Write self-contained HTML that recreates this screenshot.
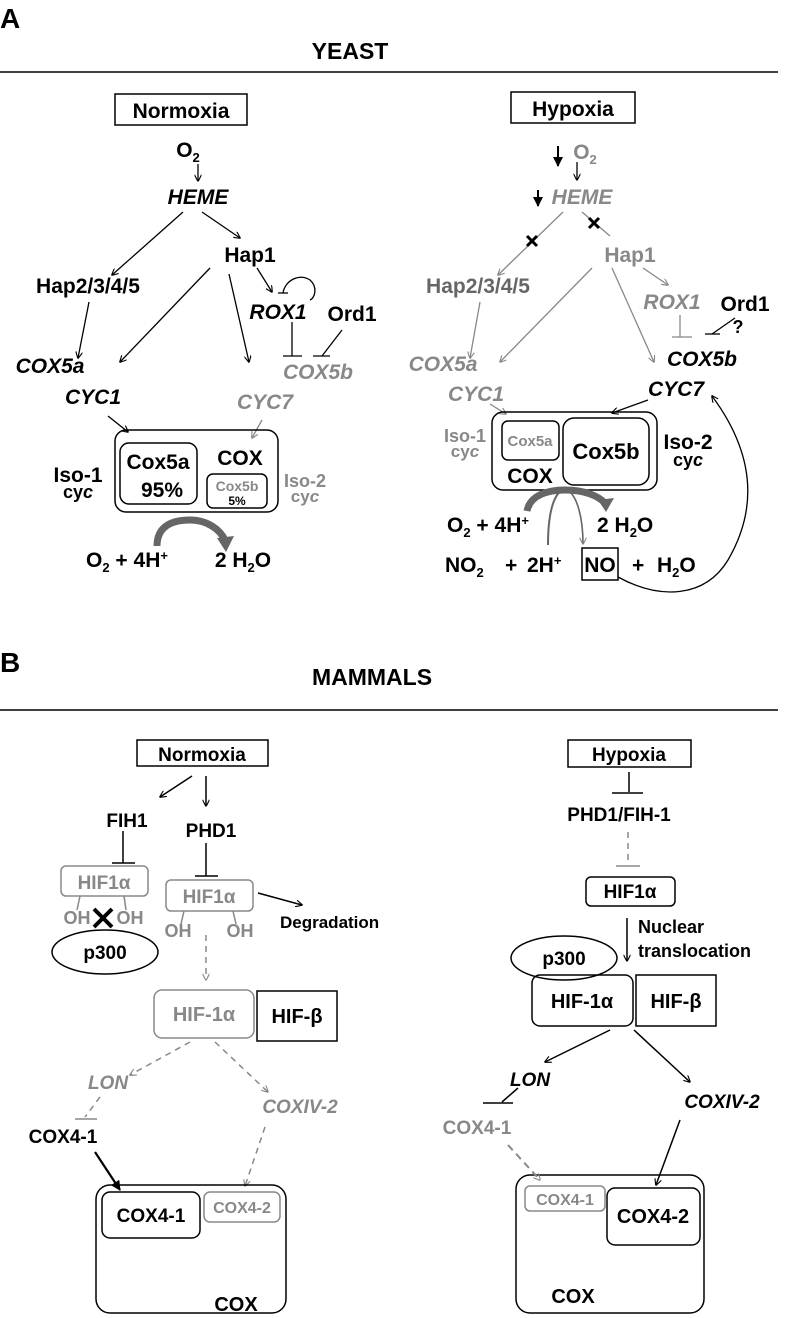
<!DOCTYPE html>
<html><head><meta charset="utf-8"><style>
html,body{margin:0;padding:0;background:#fff}
svg{display:block}
text{font-family:"Liberation Sans",Arial,sans-serif;font-weight:bold}
.g{fill:#888}
.i{font-style:italic}
</style></head><body>
<svg width="792" height="1318" viewBox="0 0 792 1318" xmlns="http://www.w3.org/2000/svg">
<defs>
<marker id="a" viewBox="0 0 10 10" refX="9" refY="5" markerWidth="7" markerHeight="7" orient="auto" markerUnits="userSpaceOnUse"><path d="M0,0 L10,5 L0,10" fill="none" stroke="#000" stroke-width="1.6"/></marker>
<marker id="ag" viewBox="0 0 10 10" refX="9" refY="5" markerWidth="7" markerHeight="7" orient="auto" markerUnits="userSpaceOnUse"><path d="M0,0 L10,5 L0,10" fill="none" stroke="#888" stroke-width="1.6"/></marker>
<marker id="af" viewBox="0 0 10 10" refX="9" refY="5" markerWidth="10" markerHeight="10" orient="auto" markerUnits="userSpaceOnUse"><path d="M0,0 L10,5 L0,10 z" fill="#000"/></marker>
</defs>
<g stroke="#000" stroke-width="1.5" fill="none">
<line x1="0" y1="72" x2="778" y2="72"/>
<line x1="0" y1="710" x2="778" y2="710"/>
</g>
<text x="0" y="28" font-size="28">A</text>
<text x="350" y="59" font-size="23" text-anchor="middle">YEAST</text>
<text x="0" y="672" font-size="28">B</text>
<text x="372" y="685" font-size="23" text-anchor="middle">MAMMALS</text>

<!-- ===== YEAST NORMOXIA ===== -->
<rect x="115" y="94" width="132" height="31" fill="none" stroke="#000" stroke-width="1.5"/>
<text x="181" y="118" font-size="21" text-anchor="middle">Normoxia</text>
<text x="188" y="157" font-size="21" text-anchor="middle">O<tspan font-size="13" dy="5">2</tspan></text>
<g stroke="#000" stroke-width="1.3" fill="none">
<line x1="198" y1="164" x2="198" y2="181" marker-end="url(#a)"/>
<line x1="183" y1="212" x2="112" y2="275" marker-end="url(#a)"/>
<line x1="202" y1="212" x2="240" y2="238" marker-end="url(#a)"/>
<line x1="89" y1="302" x2="78" y2="358" marker-end="url(#a)"/>
<line x1="210" y1="268" x2="120" y2="362" marker-end="url(#a)"/>
<line x1="229" y1="274" x2="249" y2="362" marker-end="url(#a)"/>
<line x1="257" y1="268" x2="272" y2="292" marker-end="url(#a)"/>
<path d="M283,293 C285,280 300,273 310,280 C318,287 315,298 310,300"/>
<line x1="278" y1="293" x2="288" y2="293"/>
<line x1="292" y1="322" x2="292" y2="356"/>
<line x1="283" y1="356" x2="302" y2="356"/>
<line x1="342" y1="330" x2="322" y2="356"/>
<line x1="313" y1="356" x2="330" y2="356"/>
<line x1="108" y1="416" x2="128" y2="432" marker-end="url(#a)"/>
</g>
<line x1="262" y1="420" x2="252" y2="438" stroke="#888" stroke-width="1.3" marker-end="url(#ag)"/>
<text x="198" y="204" font-size="21" class="i" text-anchor="middle">HEME</text>
<text x="250" y="262" font-size="21" text-anchor="middle">Hap1</text>
<text x="88" y="293" font-size="21" text-anchor="middle">Hap2/3/4/5</text>
<text x="278" y="319" font-size="21" class="i" text-anchor="middle">ROX1</text>
<text x="352" y="321" font-size="21" text-anchor="middle">Ord1</text>
<text x="50" y="373" font-size="21" class="i" text-anchor="middle">COX5a</text>
<text x="318" y="379" font-size="21" class="i g" text-anchor="middle">COX5b</text>
<text x="93" y="404" font-size="21" class="i" text-anchor="middle">CYC1</text>
<text x="265" y="409" font-size="21" class="i g" text-anchor="middle">CYC7</text>
<g fill="none" stroke="#000" stroke-width="1.5">
<rect x="115" y="430" width="163" height="82" rx="11"/>
<rect x="120" y="443" width="77" height="61" rx="9"/>
<rect x="207" y="474" width="60" height="34" rx="6"/>
</g>
<text x="158" y="469" font-size="21" text-anchor="middle">Cox5a</text>
<text x="162" y="497" font-size="21" text-anchor="middle">95%</text>
<text x="240" y="465" font-size="21" text-anchor="middle">COX</text>
<text x="237" y="491" font-size="14" class="g" text-anchor="middle">Cox5b</text>
<text x="237" y="505" font-size="12" text-anchor="middle">5%</text>
<text x="78" y="482" font-size="21" text-anchor="middle">Iso-1</text>
<text x="78" y="498" font-size="18" text-anchor="middle">cy<tspan class="i">c</tspan></text>
<text x="305" y="487" font-size="18" class="g" text-anchor="middle">Iso-2</text>
<text x="305" y="502" font-size="17" class="g" text-anchor="middle">cy<tspan class="i">c</tspan></text>
<path d="M157,546 C157,526 172,520 190,520 C208,520 220,530 225,540" fill="none" stroke="#666" stroke-width="7"/>
<path d="M217,538 L234,536 L226,552 z" fill="#666"/>
<text x="127" y="567" font-size="21" text-anchor="middle">O<tspan font-size="13" dy="5">2</tspan><tspan dy="-5"> + 4H</tspan><tspan font-size="13" dy="-7">+</tspan></text>
<text x="243" y="567" font-size="21" text-anchor="middle">2 H<tspan font-size="13" dy="5">2</tspan><tspan dy="-5">O</tspan></text>

<!-- ===== YEAST HYPOXIA ===== -->
<rect x="511" y="92" width="124" height="31" fill="none" stroke="#000" stroke-width="1.5"/>
<text x="573" y="116" font-size="21" text-anchor="middle">Hypoxia</text>
<g stroke="#000" stroke-width="2" fill="none">
<line x1="558" y1="146" x2="558" y2="166" marker-end="url(#af)"/>
<line x1="538" y1="190" x2="538" y2="206" marker-end="url(#af)"/>
</g>
<line x1="577" y1="162" x2="577" y2="180" stroke="#000" stroke-width="1.3" marker-end="url(#a)"/>
<text x="585" y="159" font-size="21" class="g" text-anchor="middle">O<tspan font-size="13" dy="5">2</tspan></text>
<text x="582" y="204" font-size="21" class="i g" text-anchor="middle">HEME</text>
<g stroke="#888" stroke-width="1.3" fill="none">
<line x1="563" y1="212" x2="498" y2="275" marker-end="url(#ag)"/>
<line x1="582" y1="212" x2="610" y2="236"/>
<line x1="480" y1="302" x2="470" y2="358" marker-end="url(#ag)"/>
<line x1="592" y1="268" x2="500" y2="362" marker-end="url(#ag)"/>
<line x1="612" y1="268" x2="654" y2="362" marker-end="url(#ag)"/>
<line x1="643" y1="268" x2="668" y2="285" marker-end="url(#ag)"/>
<line x1="680" y1="315" x2="680" y2="337"/>
<line x1="672" y1="337" x2="692" y2="337"/>
</g>
<g stroke="#000" stroke-width="3">
<line x1="527" y1="236" x2="537" y2="246"/><line x1="537" y1="236" x2="527" y2="246"/>
<line x1="589" y1="218" x2="599" y2="228"/><line x1="599" y1="218" x2="589" y2="228"/>
</g>
<text x="630" y="262" font-size="21" class="g" text-anchor="middle">Hap1</text>
<text x="478" y="293" font-size="21" text-anchor="middle" style="fill:#666">Hap2/3/4/5</text>
<text x="672" y="309" font-size="21" class="i g" text-anchor="middle">ROX1</text>
<text x="745" y="311" font-size="21" text-anchor="middle">Ord1</text>
<g stroke="#000" stroke-width="1.3" fill="none">
<line x1="735" y1="318" x2="712" y2="334"/>
<line x1="705" y1="334" x2="720" y2="334"/>
<line x1="648" y1="400" x2="612" y2="413" marker-end="url(#a)"/>
<path d="M618,577 C660,600 705,598 728,560 C760,505 752,450 712,396" marker-end="url(#a)"/>
</g>
<text x="738" y="333" font-size="18" text-anchor="middle">?</text>
<text x="443" y="371" font-size="21" class="i g" text-anchor="middle">COX5a</text>
<text x="702" y="366" font-size="21" class="i" text-anchor="middle">COX5b</text>
<text x="476" y="401" font-size="21" class="i g" text-anchor="middle">CYC1</text>
<text x="676" y="396" font-size="21" class="i" text-anchor="middle">CYC7</text>
<line x1="490" y1="404" x2="506" y2="414" stroke="#888" stroke-width="1.3" marker-end="url(#ag)"/>
<rect x="492" y="412" width="165" height="78" rx="11" fill="none" stroke="#000" stroke-width="1.5"/>
<rect x="502" y="421" width="57" height="39" rx="6" fill="none" stroke="#000" stroke-width="1.5"/>
<rect x="563" y="418" width="86" height="67" rx="11" fill="none" stroke="#000" stroke-width="1.5"/>
<text x="530" y="446" font-size="15" class="g" text-anchor="middle">Cox5a</text>
<text x="606" y="459" font-size="22" text-anchor="middle">Cox5b</text>
<text x="530" y="483" font-size="21" text-anchor="middle">COX</text>
<text x="465" y="442" font-size="18" class="g" text-anchor="middle">Iso-1</text>
<text x="465" y="457" font-size="17" class="g" text-anchor="middle">cy<tspan class="i">c</tspan></text>
<text x="688" y="449" font-size="21" text-anchor="middle">Iso-2</text>
<text x="688" y="466" font-size="18" text-anchor="middle">cy<tspan class="i">c</tspan></text>
<path d="M527,511 C530,495 548,490 565,490 C585,490 598,496 605,503" fill="none" stroke="#666" stroke-width="7"/>
<path d="M598,500 L614,498 L606,512 z" fill="#666"/>
<path d="M548,545 C548,515 553,492 565,489" fill="none" stroke="#666" stroke-width="2"/>
<path d="M566,489 C578,495 583,520 583,544" fill="none" stroke="#666" stroke-width="1.6" marker-end="url(#ag)"/>
<text x="447" y="532" font-size="21">O<tspan font-size="13" dy="5">2</tspan><tspan dy="-5"> + 4H</tspan><tspan font-size="13" dy="-7">+</tspan></text>
<text x="597" y="532" font-size="21">2 H<tspan font-size="13" dy="5">2</tspan><tspan dy="-5">O</tspan></text>
<text x="445" y="572" font-size="21">NO<tspan font-size="13" dy="5">2</tspan></text>
<text x="505" y="572" font-size="21">+</text>
<text x="527" y="572" font-size="21">2H<tspan font-size="13" dy="-7">+</tspan></text>
<rect x="582" y="548" width="36" height="32" fill="none" stroke="#000" stroke-width="1.5"/>
<text x="600" y="572" font-size="21" text-anchor="middle">NO</text>
<text x="632" y="572" font-size="21">+</text>
<text x="657" y="572" font-size="21">H<tspan font-size="13" dy="5">2</tspan><tspan dy="-5">O</tspan></text>

<!-- ===== MAMMALS NORMOXIA ===== -->
<rect x="137" y="740" width="131" height="26" fill="none" stroke="#000" stroke-width="1.5"/>
<text x="202" y="761" font-size="19" text-anchor="middle">Normoxia</text>
<g stroke="#000" stroke-width="1.5" fill="none">
<line x1="192" y1="776" x2="160" y2="797" marker-end="url(#a)"/>
<line x1="206" y1="776" x2="206" y2="806" marker-end="url(#a)"/>
<line x1="123" y1="831" x2="123" y2="863"/>
<line x1="112" y1="863" x2="135" y2="863"/>
<line x1="206" y1="843" x2="206" y2="876"/>
<line x1="195" y1="876" x2="218" y2="876"/>
<line x1="258" y1="893" x2="302" y2="905" marker-end="url(#a)"/>
<ellipse cx="105" cy="952" rx="53" ry="22"/>
<line x1="95" y1="1152" x2="120" y2="1190" stroke-width="2.2" marker-end="url(#af)"/>
</g>
<text x="127" y="827" font-size="19" text-anchor="middle">FIH1</text>
<text x="211" y="837" font-size="19" text-anchor="middle">PHD1</text>
<g stroke="#888" stroke-width="1.5" fill="none">
<rect x="61" y="866" width="87" height="30" rx="5"/>
<rect x="166" y="880" width="87" height="31" rx="5"/>
<line x1="80" y1="896" x2="77" y2="910"/><line x1="124" y1="896" x2="126" y2="910"/>
<line x1="184" y1="911" x2="181" y2="924"/><line x1="233" y1="911" x2="236" y2="924"/>
<line x1="206" y1="935" x2="206" y2="980" stroke-dasharray="6,5" marker-end="url(#ag)"/>
<rect x="154" y="990" width="100" height="48" rx="8"/>
<line x1="190" y1="1042" x2="130" y2="1075" stroke-dasharray="6,5" marker-end="url(#ag)"/>
<line x1="215" y1="1042" x2="268" y2="1092" stroke-dasharray="6,5" marker-end="url(#ag)"/>
<line x1="100" y1="1097" x2="85" y2="1117" stroke-dasharray="6,5"/>
<line x1="75" y1="1119" x2="97" y2="1119"/>
<line x1="265" y1="1127" x2="245" y2="1186" stroke-dasharray="6,5" marker-end="url(#ag)"/>
</g>
<text x="104" y="889" font-size="19" class="g" text-anchor="middle">HIF1α</text>
<text x="209" y="903" font-size="19" class="g" text-anchor="middle">HIF1α</text>
<text x="77" y="924" font-size="18" class="g" text-anchor="middle">OH</text>
<text x="130" y="924" font-size="18" class="g" text-anchor="middle">OH</text>
<text x="178" y="937" font-size="18" class="g" text-anchor="middle">OH</text>
<text x="240" y="937" font-size="18" class="g" text-anchor="middle">OH</text>
<g stroke="#000" stroke-width="4"><line x1="94" y1="909" x2="112" y2="927"/><line x1="112" y1="909" x2="94" y2="927"/></g>
<text x="105" y="959" font-size="19" text-anchor="middle">p300</text>
<text x="280" y="928" font-size="17">Degradation</text>
<text x="204" y="1021" font-size="20" class="g" text-anchor="middle">HIF-1α</text>
<rect x="257" y="991" width="80" height="50" fill="none" stroke="#000" stroke-width="1.5"/>
<text x="297" y="1023" font-size="20" text-anchor="middle">HIF-β</text>
<text x="108" y="1089" font-size="19" class="i g" text-anchor="middle">LON</text>
<text x="300" y="1113" font-size="19" class="i g" text-anchor="middle">COXIV-2</text>
<text x="63" y="1143" font-size="19" text-anchor="middle">COX4-1</text>
<rect x="96" y="1185" width="190" height="128" rx="14" fill="none" stroke="#000" stroke-width="1.5"/>
<rect x="102" y="1192" width="98" height="46" rx="8" fill="none" stroke="#000" stroke-width="1.5"/>
<rect x="204" y="1192" width="76" height="30" rx="6" fill="none" stroke="#888" stroke-width="1.5"/>
<text x="151" y="1222" font-size="19" text-anchor="middle">COX4-1</text>
<text x="242" y="1213" font-size="16" class="g" text-anchor="middle">COX4-2</text>
<text x="236" y="1311" font-size="20" text-anchor="middle">COX</text>

<!-- ===== MAMMALS HYPOXIA ===== -->
<rect x="568" y="740" width="123" height="27" fill="none" stroke="#000" stroke-width="1.5"/>
<text x="629" y="761" font-size="19" text-anchor="middle">Hypoxia</text>
<g stroke="#000" stroke-width="1.5" fill="none">
<line x1="629" y1="772" x2="629" y2="792"/>
<line x1="612" y1="793" x2="643" y2="793"/>
<rect x="586" y="877" width="89" height="29" rx="5"/>
<line x1="627" y1="918" x2="627" y2="961" marker-end="url(#a)"/>
<ellipse cx="564" cy="958" rx="53" ry="22"/>
<rect x="532" y="975" width="101" height="51" rx="8"/>
<rect x="636" y="975" width="80" height="51"/>
<line x1="610" y1="1030" x2="545" y2="1062" marker-end="url(#a)"/>
<line x1="634" y1="1030" x2="690" y2="1082" marker-end="url(#a)"/>
<line x1="518" y1="1088" x2="502" y2="1102"/>
<line x1="483" y1="1103" x2="513" y2="1103"/>
<line x1="680" y1="1120" x2="656" y2="1185" marker-end="url(#a)"/>
<rect x="516" y="1175" width="188" height="138" rx="14"/>
<rect x="607" y="1188" width="93" height="57" rx="8"/>
</g>
<g stroke="#888" stroke-width="1.5" fill="none">
<line x1="628" y1="832" x2="628" y2="865" stroke-dasharray="6,5"/>
<line x1="616" y1="866" x2="640" y2="866"/>
<line x1="508" y1="1145" x2="540" y2="1180" stroke-dasharray="7,5" stroke-width="2" marker-end="url(#ag)"/>
<rect x="525" y="1186" width="80" height="25" rx="5"/>
</g>
<text x="619" y="821" font-size="19" text-anchor="middle">PHD1/FIH-1</text>
<text x="630" y="898" font-size="19" text-anchor="middle">HIF1α</text>
<text x="638" y="933" font-size="18">Nuclear</text>
<text x="638" y="957" font-size="18">translocation</text>
<text x="564" y="965" font-size="19" text-anchor="middle">p300</text>
<text x="582" y="1008" font-size="20" text-anchor="middle">HIF-1α</text>
<text x="676" y="1008" font-size="20" text-anchor="middle">HIF-β</text>
<text x="530" y="1086" font-size="19" class="i" text-anchor="middle">LON</text>
<text x="722" y="1108" font-size="19" class="i" text-anchor="middle">COXIV-2</text>
<text x="477" y="1134" font-size="19" class="g" text-anchor="middle">COX4-1</text>
<text x="565" y="1205" font-size="16" class="g" text-anchor="middle">COX4-1</text>
<text x="653" y="1223" font-size="20" text-anchor="middle">COX4-2</text>
<text x="573" y="1303" font-size="20" text-anchor="middle">COX</text>
</svg>
</body></html>
